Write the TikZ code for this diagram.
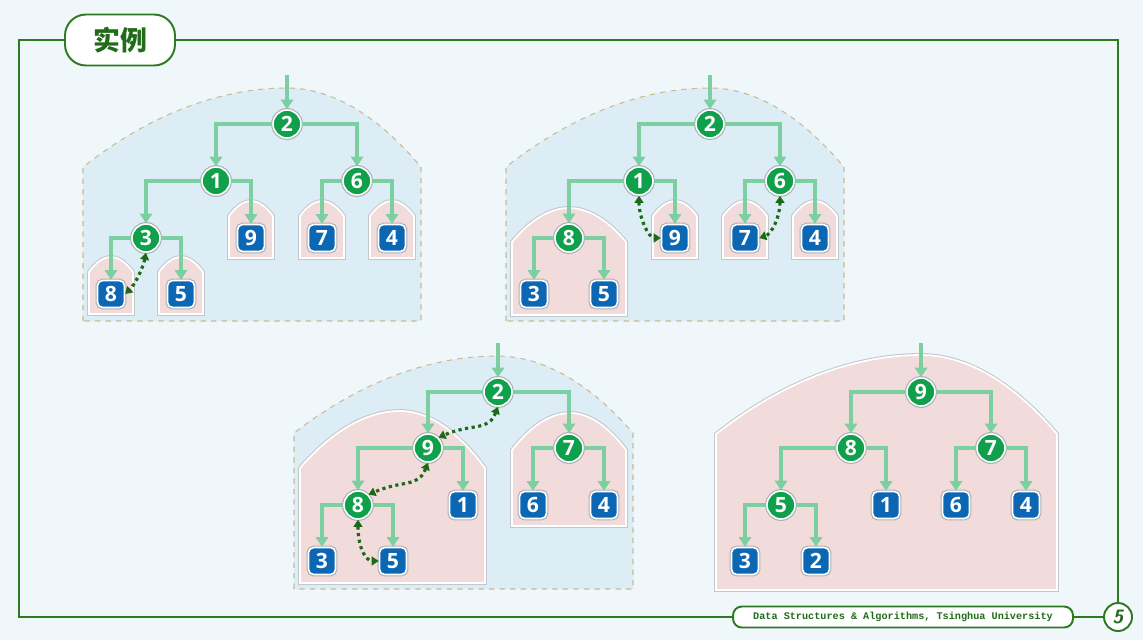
\documentclass[tikz,border=0pt]{standalone}
\usepackage{fontspec}
\usepackage{xcolor}
\usetikzlibrary{arrows.meta, positioning, calc}
\newfontfamily\cjk{Noto Sans CJK SC}
\newfontfamily\numfont{Open Sans}
\newfontfamily\footfont{Liberation Mono}
\definecolor{bgblue}{HTML}{F0F7FA}
\definecolor{framegreen}{HTML}{2D7A22}
\definecolor{titlegreen}{HTML}{226B1A}
\definecolor{nodegreen}{HTML}{10A04C}
\definecolor{leafblue}{HTML}{0B66B3}
\definecolor{linkgreen}{HTML}{7BCFA0}
\definecolor{swapgreen}{HTML}{1C6A18}
\definecolor{regionblue}{HTML}{DDEDF6}
\definecolor{dashtan}{HTML}{C9BB90}
\definecolor{heappink}{HTML}{F2DBDB}
\definecolor{shadowgray}{HTML}{A9B1B6}

\begin{document}
\begin{tikzpicture}[x=0.02cm, y=-0.02cm,
    frame/.style={draw=framegreen, line width=1.1pt},
    heap/.style={circle, fill=nodegreen, draw=white, line width=0.9pt, minimum size=0.56cm, inner sep=0pt,
      text=white, font=\numfont\bfseries\fontsize{12}{12}\selectfont, preaction={draw=shadowgray, line width=2.2pt}},
    leaf/.style={rectangle, rounded corners=3pt, fill=leafblue, draw=white, line width=0.9pt, minimum size=0.54cm, inner sep=0pt,
      text=white, font=\numfont\bfseries\fontsize{12}{12}\selectfont, preaction={draw=shadowgray, line width=2.2pt}},
    link/.style={draw=linkgreen, line width=2.6pt, -{Triangle[length=5.5pt, width=7pt]}},
    swap/.style={draw=swapgreen, line width=1.8pt, dotted, arrows={Triangle[length=4pt, width=5pt]-Triangle[length=4pt, width=5pt]}},
    region/.style={fill=regionblue, draw=dashtan, dashed, line width=0.6pt},
    subheap/.style={fill=heappink, draw=white, line width=1pt, preaction={draw=shadowgray!70, line width=2.2pt}}]

  % background and page frame
  \fill[bgblue] (0,0) rectangle (1143,640);
  \useasboundingbox (0,0) rectangle (1143,640);
  \node[draw=framegreen, line width=1.1pt, fill=white!97!bgblue, rounded corners=0.42cm, minimum width=2.2cm, minimum height=1.02cm,
    text=titlegreen, font=\cjk\bfseries\fontsize{15.3}{15.3}\selectfont] (title) at (120,40) {实例};
  \node[draw=framegreen, line width=1.1pt, fill=white, rounded corners=5pt, minimum width=6.8cm, minimum height=0.42cm, inner sep=0pt,
    text=titlegreen, font=\footfont\bfseries\fontsize{5.8}{5.8}\selectfont] (foot) at (903,617) {Data Structures \& Algorithms, Tsinghua University};
  \node[circle, draw=framegreen, line width=1.1pt, fill=white, minimum size=0.56cm, inner sep=0pt,
    text=titlegreen, font=\sffamily\bfseries\itshape\fontsize{11}{11}\selectfont] (page) at (1118,617) {5};
  \coordinate (tl) at (19,40);
  \coordinate (tr) at (1118,40);
  \coordinate (bl) at (19,617);
  \draw[frame] (title.east) -- (tr) -- (page.north);
  \draw[frame] (title.west) -- (tl) -- (bl) -- (foot.west);
  \draw[frame] (foot.east) -- (page.west);

  % regions
  \draw[region] (83,321) -- (83,167) parabola bend (287,88) (421,167) -- (421,321) -- cycle;
  \draw[region] (506,321) -- (506,167) parabola bend (710,88) (844,167) -- (844,321) -- cycle;
  \draw[region] (294,589) -- (294,433) parabola bend (497,356) (633,433) -- (633,589) -- cycle;
  \foreach \x/\y in {251/238, 322/238, 392/238, 111/294, 181/294, 675/238, 745/238, 815/238}
    \draw[subheap] (\x-22,\y+20) -- (\x-22,\y-22) parabola bend (\x,\y-37) (\x+22,\y-22) -- (\x+22,\y+20) -- cycle;
  \draw[subheap] (512,315) -- (512,242) parabola bend (569,208) (626,242) -- (626,315) -- cycle;
  \draw[subheap] (300,583) -- (300,468) parabola bend (400,411) (485,468) -- (485,583) -- cycle;
  \draw[subheap] (512,526) -- (512,450) parabola bend (570,413) (626,450) -- (626,526) -- cycle;
  \draw[subheap] (716,590) -- (716,434) parabola bend (921,355) (1057,434) -- (1057,590) -- cycle;

  % heap 1
  \node[heap] (a2) at (287,124) {2};
  \node[heap] (a1) at (216,181) {1};
  \node[heap] (a6) at (357,181) {6};
  \node[heap] (a3) at (146,238) {3};
  \node[leaf] (a9) at (251,238) {9};
  \node[leaf] (a7) at (322,238) {7};
  \node[leaf] (a4) at (392,238) {4};
  \node[leaf] (a8) at (111,294) {8};
  \node[leaf] (a5) at (181,294) {5};

  % heap 2
  \node[heap] (b2) at (710,124) {2};
  \node[heap] (b1) at (639,181) {1};
  \node[heap] (b6) at (780,181) {6};
  \node[heap] (b8) at (569,238) {8};
  \node[leaf] (b9) at (675,238) {9};
  \node[leaf] (b7) at (745,238) {7};
  \node[leaf] (b4) at (815,238) {4};
  \node[leaf] (b3) at (534,294) {3};
  \node[leaf] (b5) at (604,294) {5};

  % heap 3
  \node[heap] (c2) at (498,392) {2};
  \node[heap] (c9) at (428,448) {9};
  \node[heap] (c7) at (569,448) {7};
  \node[heap] (c8) at (358,505) {8};
  \node[leaf] (c1) at (463,505) {1};
  \node[leaf] (c6) at (533,505) {6};
  \node[leaf] (c4) at (604,505) {4};
  \node[leaf] (c3) at (322,561) {3};
  \node[leaf] (c5) at (393,561) {5};

  % heap 4
  \node[heap] (d9) at (921,392) {9};
  \node[heap] (d8) at (851,448) {8};
  \node[heap] (d7) at (991,448) {7};
  \node[heap] (d5) at (781,505) {5};
  \node[leaf] (d1) at (886,505) {1};
  \node[leaf] (d6) at (956,505) {6};
  \node[leaf] (d4) at (1026,505) {4};
  \node[leaf] (d3) at (745,561) {3};
  \node[leaf] (d2) at (816,561) {2};

  % links
  \foreach \p/\c in {a2/a1, a2/a6, a1/a3, a1/a9, a6/a7, a6/a4, a3/a8, a3/a5,
                     b2/b1, b2/b6, b1/b8, b1/b9, b6/b7, b6/b4, b8/b3, b8/b5,
                     c2/c9, c2/c7, c9/c8, c9/c1, c7/c6, c7/c4, c8/c3, c8/c5,
                     d9/d8, d9/d7, d8/d5, d8/d1, d7/d6, d7/d4, d5/d3, d5/d2}
    \draw[link] (\p) -| (\c);
  \foreach \r/\x/\y in {a2/287/75, b2/710/75, c2/498/343, d9/921/343} {
    \coordinate (\r in) at (\x,\y);
    \draw[link] (\r in) -- (\r);
  }

  % swaps
  \draw[swap] (a3.south) .. controls +(-3,15) and +(10,-10) .. (a8.east);
  \draw[swap] (b1.south) .. controls +(0,22) and +(-12,0) .. (b9.west);
  \draw[swap] (b6.south) .. controls +(0,22) and +(12,-4) .. (b7.east);
  \draw[swap] (c2.south) .. controls +(-10,25) and +(35,-15) .. (c9.north east);
  \draw[swap] (c9.south) .. controls +(-10,25) and +(35,-15) .. (c8.north east);
  \draw[swap] (c8.south) .. controls +(0,30) and +(-12,0) .. (c5.west);
\end{tikzpicture}
\end{document}
